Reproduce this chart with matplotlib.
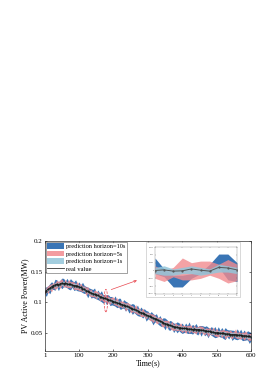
import numpy as np
import matplotlib
matplotlib.use('Agg')
import matplotlib.pyplot as plt
from matplotlib.patches import Ellipse, Rectangle

plt.rcParams['font.family'] = 'serif'
plt.rcParams['font.serif'] = ['Liberation Serif', 'DejaVu Serif']

# time axis (s)
t = [1] + list(range(5, 601, 5))

# real PV power (MW)
real = [0.117, 0.119, 0.121, 0.123, 0.125, 0.127, 0.128, 0.129, 0.128, 0.130, 0.131, 0.130, 0.131, 0.130, 0.129, 0.129, 0.128, 0.127, 0.127, 0.126, 0.125,
        0.124, 0.122, 0.121, 0.119, 0.118, 0.116, 0.115, 0.114, 0.113, 0.112, 0.111, 0.109, 0.108, 0.107, 0.106, 0.105, 0.104, 0.103, 0.102, 0.101,
        0.100, 0.099, 0.098, 0.097, 0.096, 0.095, 0.094, 0.093, 0.092, 0.090, 0.089, 0.088, 0.087, 0.086, 0.084, 0.083, 0.082, 0.081, 0.079, 0.078,
        0.077, 0.075, 0.074, 0.073, 0.072, 0.070, 0.069, 0.068, 0.066, 0.065, 0.064, 0.063, 0.062, 0.061, 0.060, 0.059, 0.059, 0.058, 0.058, 0.057,
        0.057, 0.057, 0.056, 0.056, 0.056, 0.055, 0.056, 0.055, 0.055, 0.055, 0.054, 0.054, 0.053, 0.053, 0.052, 0.052, 0.051, 0.051, 0.050, 0.050,
        0.050, 0.049, 0.049, 0.049, 0.048, 0.048, 0.048, 0.047, 0.047, 0.047, 0.047, 0.046, 0.046, 0.046, 0.045, 0.045, 0.045, 0.044, 0.044, 0.043]

# band half widths (x1e-3 MW)
w10 = [7.5, 9.8, 6.2, 10.4, 8.1, 5.9, 11.2, 7.3, 9.0, 6.5, 10.8, 8.4, 6.1, 9.7, 7.8, 11.5, 6.8, 8.9, 10.1, 7.0,
       9.3, 6.4, 10.6, 8.2, 7.1, 11.0, 6.7, 9.5, 8.0, 10.3, 6.3, 9.9, 7.6, 11.3, 8.5, 6.6, 10.0, 7.4, 9.2, 8.7,
       6.9, 10.5, 7.7, 9.1, 11.4, 6.0, 8.6, 10.2, 7.2, 9.6, 6.8, 11.1, 8.3, 7.0, 10.7, 6.5, 9.4, 8.8, 7.5, 10.9,
       8.0, 6.2, 9.8, 11.6, 7.3, 8.9, 6.4, 10.4, 7.9, 9.0, 12.0, 6.6, 8.5, 10.1, 7.1, 9.7, 6.9, 11.2, 8.2, 7.6,
       10.6, 6.3, 9.3, 8.1, 11.8, 7.0, 9.9, 6.7, 10.3, 8.4, 7.2, 11.0, 6.5, 9.5, 8.7, 10.8, 6.1, 9.1, 7.8, 11.4,
       7.4, 9.6, 6.8, 10.0, 8.6, 12.2, 7.1, 9.2, 6.6, 10.5, 8.3, 7.7, 11.1, 6.9, 9.8, 8.0, 10.7, 7.3, 9.4, 11.9, 8.5]
w5 = [6.1, 4.8, 7.5, 5.4, 8.2, 4.5, 6.9, 7.8, 5.0, 8.6, 6.3, 4.9, 7.1, 5.7, 8.0, 6.6, 4.6, 7.4, 5.9, 8.3,
      5.2, 7.7, 6.0, 4.7, 8.5, 6.4, 5.5, 7.9, 4.4, 6.8, 8.1, 5.3, 7.2, 6.2, 4.9, 8.7, 5.8, 7.0, 6.5, 5.1,
      7.6, 4.8, 8.4, 6.1, 5.6, 7.3, 4.5, 8.0, 6.7, 5.0, 7.8, 6.3, 4.7, 8.8, 5.4, 7.1, 6.0, 8.2, 5.2, 6.9,
      4.6, 7.5, 6.4, 8.6, 5.1, 7.0, 5.8, 4.9, 8.3, 6.6, 5.3, 7.7, 6.2, 4.8, 8.9, 5.7, 7.2, 6.5, 5.0, 8.1,
      6.8, 5.5, 7.9, 4.7, 8.4, 6.0, 5.2, 7.4, 6.9, 4.6, 8.7, 5.9, 7.1, 6.3, 5.0, 8.2, 6.6, 4.8, 7.6, 5.4,
      8.0, 6.2, 4.9, 7.8, 5.6, 8.5, 6.4, 5.1, 7.3, 6.7, 4.7, 8.9, 5.8, 7.0, 6.1, 5.3, 8.3, 6.8, 5.5, 7.5, 6.0]
w1 = [3.2, 4.1, 2.8, 3.7, 4.5, 2.6, 3.9, 3.0, 4.3, 2.9, 3.5, 4.6, 2.7, 3.8, 3.3, 4.2, 2.5, 3.6, 4.4, 3.1,
      2.8, 4.0, 3.4, 4.7, 2.6, 3.7, 3.0, 4.2, 3.5, 2.7, 4.5, 3.2, 3.9, 2.9, 4.1, 3.6, 2.8, 4.4, 3.3, 3.8,
      4.3, 2.7, 3.6, 4.6, 3.1, 2.9, 4.0, 3.4, 4.8, 2.6, 3.7, 3.2, 4.2, 2.8, 3.9, 4.5, 3.0, 3.5, 2.7, 4.1,
      3.3, 4.4, 2.9, 3.8, 4.0, 2.6, 3.5, 4.7, 3.1, 3.7, 2.8, 4.2, 3.4, 4.6, 2.7, 3.9, 3.2, 4.3, 3.0, 3.6,
      4.5, 2.9, 3.8, 3.3, 4.1, 2.7, 3.6, 4.4, 3.0, 3.9, 4.7, 2.8, 3.5, 4.2, 3.1, 2.6, 4.0, 3.7, 4.6, 3.2,
      2.9, 3.8, 4.3, 3.0, 3.6, 4.5, 2.7, 3.4, 4.1, 3.2, 3.9, 2.8, 4.4, 3.5, 3.1, 4.6, 2.6, 3.7, 4.2, 3.3, 3.6]

# band centre bias (x0.6e-3 MW)
off10 = [2.1, -3.0, 1.4, -1.8, 3.2, -2.5, 0.6, 2.8, -3.4, 1.0, -0.7, 3.5, -2.2, 1.9, -2.9, 0.4, 3.0, -1.5, 2.4, -3.1,
         0.9, -2.6, 3.3, -0.5, 1.7, -3.5, 2.6, -1.2, 0.3, 3.1, -2.8, 1.5, -0.9, 2.7, -3.3, 1.1, -1.9, 3.4, -2.3, 0.7,
         -1.4, 2.9, -3.2, 1.8, 0.2, -2.7, 3.6, -1.0, 2.2, -3.6, 1.3, -0.4, 3.0, -2.1, 0.8, -3.0, 2.5, -1.6, 3.3, -2.4,
         1.6, -0.8, 2.8, -3.3, 0.5, 3.2, -2.0, 1.2, -2.9, 2.0, -1.1, 3.7, -2.6, 0.1, 2.6, -3.4, 1.4, -0.6, 3.1, -2.2,
         0.4, -3.1, 2.3, -1.3, 3.5, -2.5, 1.0, -0.3, 2.9, -3.5, 1.7, -1.8, 3.3, -0.9, 2.1, -2.8, 0.6, 3.0, -2.0, 1.5,
         -2.7, 3.4, -1.0, 2.4, -3.2, 0.9, 2.7, -1.5, 3.6, -2.3, 0.3, -3.0, 2.2, -0.7, 3.1, -2.6, 1.3, -1.7, 2.8, -3.4, 1.0]
off5 = [-1.8, 2.5, -0.6, 3.0, -2.7, 1.3, -3.2, 0.8, 2.6, -1.1, 3.3, -2.4, 0.5, -3.0, 2.0, -1.5, 3.4, -0.3, -2.6, 1.9,
        -3.1, 1.2, -0.8, 2.9, -2.2, 3.5, -1.4, 0.2, -2.9, 2.3, -0.5, 3.1, -2.0, 1.6, -3.4, 2.7, -1.0, 0.6, -2.5, 3.2,
        2.4, -1.7, 3.0, -2.8, 0.9, -0.2, 2.8, -3.3, 1.4, 3.4, -2.1, 0.7, -1.3, 3.2, -2.6, 1.8, -3.5, 2.1, -0.4, -1.9,
        3.0, -2.4, 1.1, -0.9, 2.5, -3.1, 0.4, 3.3, -1.6, -2.7, 2.2, -0.6, 3.5, -2.3, 1.0, -3.2, 2.6, -1.2, 0.3, 2.9,
        -2.0, 1.5, -3.4, 2.8, -0.7, 3.1, -1.8, 0.8, -2.9, 2.4, -1.3, 3.6, -0.2, -2.5, 1.9, -3.0, 2.7, -1.1, 3.3, -2.2,
        0.6, -3.3, 2.2, -1.4, 3.0, -2.6, 1.2, -0.5, 2.6, -3.1, 1.7, 3.4, -2.0, 0.9, -2.8, 2.3, -1.6, 3.2, -0.8, -2.4, 1.4]

# inset: error zoom over 10 steps
ins_x = [1, 2, 3, 4, 5, 6, 7, 8, 9, 10]
ins_real = [0.0, 0.0004, -0.0004, -0.0002, 0.001, 0.0002, -0.0004, 0.002, 0.0016, 0.0004]
ins10_hi = [0.008, 0.001, -0.003, -0.003, -0.002, -0.001, 0.004, 0.0105, 0.0105, 0.005]
ins10_lo = [-0.002, -0.004, -0.0105, -0.0105, -0.005, -0.002, -0.002, 0.002, -0.006, -0.007]
ins5_hi = [0.003, 0.0, 0.002, 0.008, 0.005, 0.006, 0.006, 0.004, 0.007, 0.004]
ins5_lo = [-0.005, -0.007, -0.004, -0.006, -0.006, -0.005, -0.003, -0.005, -0.008, -0.0065]
ins1_hi = [0.002, 0.003, 0.001, 0.002, 0.003, 0.002, 0.001, 0.004, 0.003, 0.002]
ins1_lo = [-0.002, -0.003, -0.003, -0.002, -0.002, -0.003, -0.002, -0.001, -0.001, -0.002]

c10 = '#3a75b5'
c5 = '#f28b8f'
c1 = '#93c6da'
cline = '#1a1a1a'

t = np.array(t)
real = np.array(real)
w10 = np.array(w10) * 0.8e-3
w5 = np.array(w5) * 0.8e-3
w1 = np.array(w1) * 0.8e-3
c_10 = real + np.array(off10) * 0.6e-3
c_5 = real + np.array(off5) * 0.6e-3

W, H = 277, 392
fig = plt.figure(figsize=(W / 100, H / 100), dpi=100)
ax = fig.add_axes([45 / W, 1 - 351 / H, 206 / W, 110 / H])

ax.fill_between(t, c_10 - w10, c_10 + w10, color=c10, lw=0, label='prediction horizon=10s')
ax.fill_between(t, c_5 - w5, c_5 + w5, color=c5, alpha=0.85, lw=0, label='prediction horizon=5s')
ax.fill_between(t, real - w1, real + w1, color=c1, alpha=0.85, lw=0, label='prediction horizon=1s')
ax.plot(t, real, color=cline, lw=0.6, marker='.', ms=1.2)
# legend entry for the real curve is a plain line
ax.plot([], [], color='#333333', lw=0.6, label='real value')

ax.set_xlim(1, 600)
ax.set_ylim(0.02, 0.2)
ax.set_xticks([1, 100, 200, 300, 400, 500, 600])
ax.set_yticks([0.05, 0.1, 0.15, 0.2])
ax.set_yticklabels(['0.05', '0.1', '0.15', '0.2'])
ax.tick_params(direction='in', top=True, right=True, length=1.5, width=0.4, labelsize=5, pad=1.5)
for s in ax.spines.values():
    s.set_linewidth(0.5)
    s.set_color('#333333')
ax.set_xlabel('Time(s)', fontsize=5.7, labelpad=0.5)
ax.set_ylabel('PV Active Power(MW)', fontsize=5.7, labelpad=1)

leg = ax.legend(loc='upper left', fontsize=4.6, frameon=True, fancybox=False, borderpad=0.2,
                labelspacing=0.22, handlelength=2.6, handleheight=1.0, handletextpad=0.4, borderaxespad=0.15)
leg.get_frame().set_edgecolor('#333333')
leg.get_frame().set_linewidth(0.4)

# dashed ellipse + arrow to inset
ax.add_patch(Ellipse((178, 0.1025), 10, 0.037, fill=False, ec='#e8474f', ls='--', lw=0.5))
ax.annotate('', xy=(276, 0.137), xytext=(186, 0.119),
            arrowprops=dict(arrowstyle='->', color='#e8474f', lw=0.5, mutation_scale=4))

# inset box
fig.patches.append(Rectangle((146 / W, 1 - 297 / H), 94 / W, 55 / H, transform=fig.transFigure,
                             fc='white', ec='#bbbbbb', lw=0.4, zorder=3))
ins = fig.add_axes([155 / W, 1 - 294 / H, 82 / W, 47 / H], zorder=4)
ins.fill_between(ins_x, ins10_lo, ins10_hi, color=c10, lw=0)
ins.fill_between(ins_x, ins5_lo, ins5_hi, color=c5, alpha=0.8, lw=0)
ins.fill_between(ins_x, ins1_lo, ins1_hi, color=c1, alpha=0.85, lw=0)
ins.plot(ins_x, ins_real, color='#555555', lw=0.7, marker='.', ms=1.2)
ins.set_xlim(1, 10)
ins.set_ylim(-0.015, 0.015)
ins.set_xticks(ins_x)
ins.set_yticks([-0.015, -0.01, -0.005, 0, 0.005, 0.01, 0.015])
ins.set_yticklabels(['-0.015', '-0.01', '-0.005', '0', '0.005', '0.01', '0.015'])
ins.tick_params(direction='in', top=True, right=True, length=0.8, width=0.2, labelsize=1.6, pad=0.8, colors='#444444')
for s in ins.spines.values():
    s.set_linewidth(0.3)
    s.set_color('#888888')

fig.savefig('out.png', dpi=100)
